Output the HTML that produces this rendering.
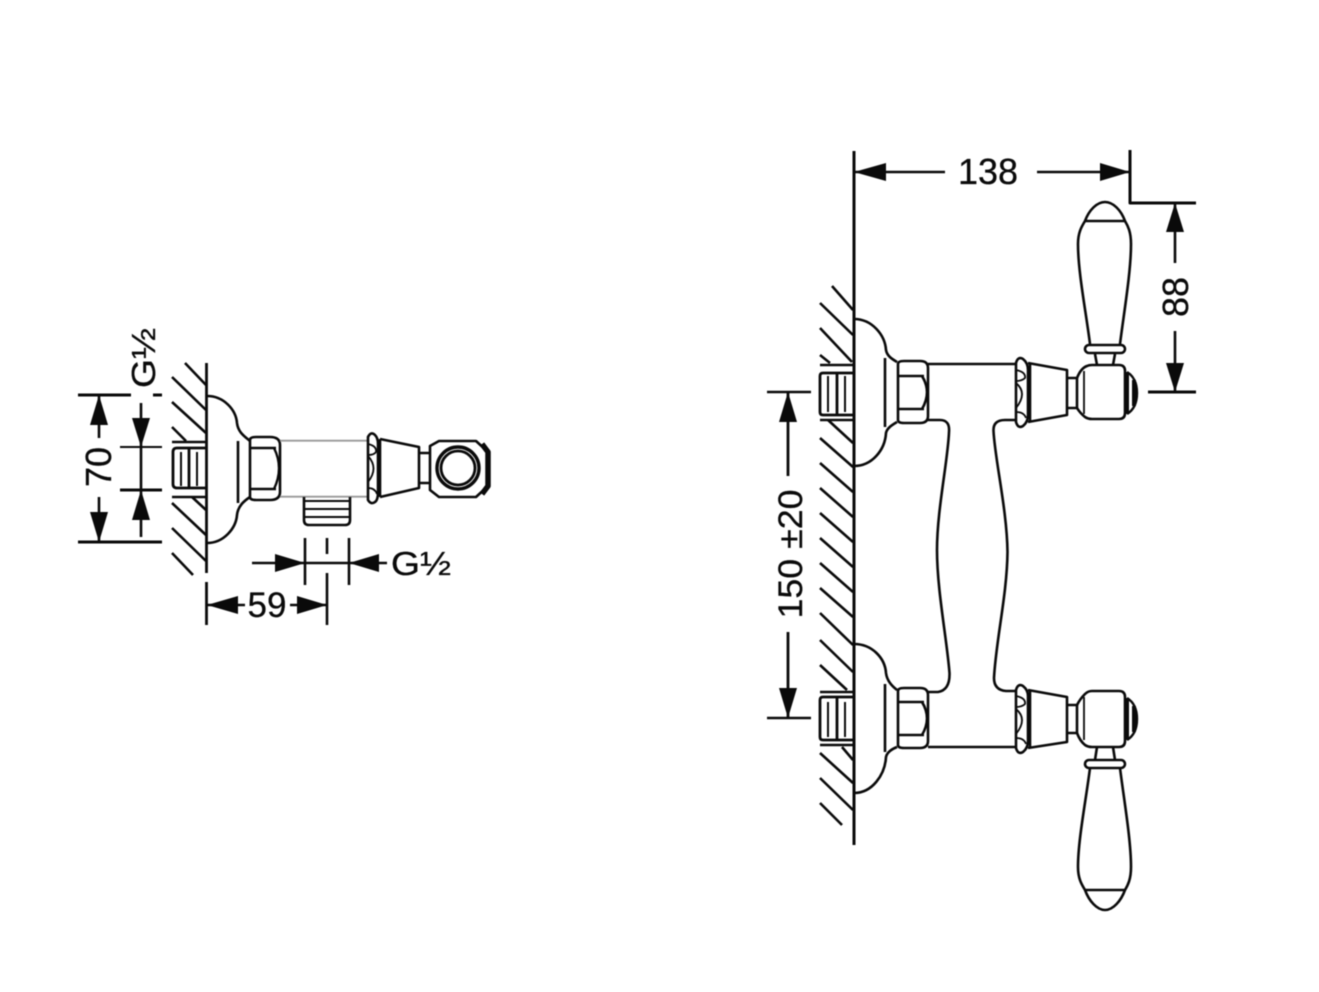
<!DOCTYPE html>
<html><head><meta charset="utf-8"><style>
html,body{margin:0;padding:0;background:#fff}
svg{display:block;filter:blur(0.45px)}
text{font-family:"Liberation Sans",sans-serif;fill:#0a0a0a}
</style></head><body>
<svg width="1319" height="992" viewBox="0 0 1319 992" xmlns="http://www.w3.org/2000/svg">
<rect width="1319" height="992" fill="#fff"/>
<g fill="none" stroke="#0a0a0a" stroke-width="2.6" stroke-linejoin="round" stroke-linecap="butt">
<!-- LEFT FIGURE -->
<path d="M206.5 363V573M206.5 582V625" stroke-width="2.8"/>
<path d="M185 363L206 385M172 377L206 410M172 402L206 433M172 427L186 441M192 497L206 510M172 503L206 535M172 528L206 561M172 553L193 575"/>
<path d="M172 442H206M172 497H206"/>
<path d="M206 448H177Q173 448 173 452V484Q173 488 177 488H206M189 448V488" stroke-width="2.8"/>
<path d="M181 452V486M197 452V486" stroke-width="2"/>
<path d="M207 396C224 396 236 410 237 423C238 432 244 436 250 441M207 543C224 543 236 528 237 515C238 506 244 501 250 497"/>
<path d="M238 441V503"/>
<path d="M250 440Q250 437 256 437H270Q280 437 280 445V492Q280 500 270 500H256Q250 500 250 497Z"/>
<path d="M250 448H276M250 489H276M274 448Q284 468 274 489" stroke-width="2.4"/>
<path d="M280 440.7H367M280 496.7H367" stroke="#999" stroke-width="1.8"/>
<path d="M368 437Q371 431 375 435Q378 438 378 444V492Q378 500 375 502Q371 505 368 500Z"/>
<path d="M368 444Q377 446 376 452Q374 455 368 455M368 456Q379 468 368 482M368 488Q375 488 377 494" stroke-width="1.8"/>
<path d="M380 439V497M380 439L419 447V488L380 497"/>
<path d="M419 453H430M419 483H430"/>
<path d="M430 446L439 441H476L488 452V486L476 497H439L430 490Z"/>
<circle cx="458" cy="468" r="21" stroke-width="3.4"/>
<circle cx="458" cy="468" r="17" stroke-width="2.8"/>
<path d="M482 444L488 452V486L482 494" stroke-width="5.5"/>
<path d="M304 497V520Q304 525 309 525H345Q350 525 350 520V497"/>
<path d="M305 501H349M305 509H349M305 517H349" stroke-width="2"/>
<path d="M305 538V585M349 538V585M327 538V554M327 573V625"/>
<path d="M252 563H387"/>
<path d="M207 605H245M290 605H327"/>
<path d="M78 395H131M153 395H162M78 542H162" stroke-width="3"/>
<path d="M99 395V438M99 497V542"/>
<path d="M141 403V537"/>
<path d="M120 447H162" stroke-width="2"/><path d="M120 490H162" stroke-width="3"/>
<!-- RIGHT FIGURE -->
<path d="M854 151V845" stroke-width="3"/>
<path d="M832 286L853 310M820 303L853 335M820 328L852 362M820 355L830 363M828 420L853 443M820 438L853 467M820 463L853 492M820 488L853 517M820 513L853 542M820 538L853 567M820 563L853 592M820 588L853 617M820 613L853 645M820 640L853 672M820 665L847 690M842 747L853 760M820 753L853 783M820 778L853 810M820 803L842 825"/>
<path d="M820 365H854M820 420H854M820 692H854M820 745H854"/>
<path d="M854 373H823Q820 373 820 376V412Q820 415 823 415H854M837 373V415M854 697H823Q820 697 820 700V737Q820 740 823 740H854M837 697V740" stroke-width="2.8"/>
<path d="M828 376V412M845 376V412M828 702V737M845 702V737" stroke-width="2"/>
<!-- top escutcheon -->
<path d="M854 319C872 319 885 335 886 350C887 356 892 359 897 362M854 466C872 466 885 450 886 433C887 428 892 425 897 422"/>
<path d="M885 358V427"/>
<path d="M898 364Q898 361 904 361H920Q928 361 928 368V416Q928 423 920 423H904Q898 423 898 420Z"/>
<path d="M898 376H924M898 409H924M922 376Q932 392 922 409" stroke-width="2.6"/>
<path d="M928 364H1015"/>
<path d="M1016 363Q1018 356 1023 359Q1028 363 1028 370V415Q1028 422 1023 426Q1018 429 1016 422Z"/>
<path d="M1016 370Q1026 372 1025 378Q1022 381 1016 381M1016 383Q1028 393 1016 408M1016 412Q1024 412 1026 418" stroke-width="1.8"/>
<path d="M1028 363L1067 370V415L1028 422"/>
<path d="M1030 363V421"/>
<path d="M1067 378H1077M1067 408H1077M1077 378V408"/>
<path d="M1077 378Q1081 368 1087 366Q1089 365 1092 365H1119Q1125 365 1125 371V413Q1125 419 1119 419H1092Q1088 419 1085 417Q1080 413 1077 408"/>
<path d="M1084 371V414" stroke-width="1.8"/>
<path d="M1127 372Q1137 378 1137 393Q1137 408 1127 414" stroke-width="2.4"/>
<path d="M1127 372V414" stroke-width="4"/>
<path d="M1134 380V406" stroke-width="4"/>
<!-- top handle -->
<path d="M1097 365L1095 354M1113 365L1115 354"/>
<rect x="1085" y="345" width="40" height="8" rx="4"/>
<path d="M1090 344C1086 312 1078 272 1078 244C1078 232 1082 226 1085 221C1089 210 1097 202 1105 202C1113 202 1121 210 1125 221C1128 226 1131 232 1131 244C1131 272 1124 312 1120 344"/>
<path d="M1085 221H1125"/>
<!-- body -->
<path d="M928 420H940Q950 420 949 432C948 460 937 510 937 550C937 590 947 640 949.5 673Q950 690 938 692H928"/>
<path d="M1015 420H1005Q993 420 993.5 431C995 460 1007 510 1007.5 552C1007 595 996 640 994 678Q994 690 1006 691H1015"/>
<!-- bottom escutcheon -->
<path d="M854 644C872 644 885 658 886 673C887 681 892 686 897 690M854 793C872 793 885 775 886 757C887 752 892 749 897 747"/>
<path d="M885 684V752"/>
<path d="M898 691Q898 688 904 688H920Q928 688 928 695V741Q928 748 920 748H904Q898 748 898 745Z"/>
<path d="M898 702H924M898 735H924M922 702Q932 718 922 735" stroke-width="2.6"/>
<path d="M928 747H1015"/>
<path d="M1016 690Q1018 683 1023 686Q1028 690 1028 696V741Q1028 748 1023 752Q1018 755 1016 748Z"/>
<path d="M1016 696Q1026 698 1025 704Q1022 707 1016 707M1016 709Q1028 719 1016 734M1016 738Q1024 738 1026 744" stroke-width="1.8"/>
<path d="M1028 690L1067 697V742L1028 748"/>
<path d="M1030 690V748"/>
<path d="M1067 705H1077M1067 733H1077M1077 705V733"/>
<path d="M1077 705Q1080 699 1085 694Q1088 691 1092 691H1119Q1125 691 1125 697V741Q1125 747 1119 747H1092Q1088 747 1085 745Q1080 741 1077 733"/>
<path d="M1084 697V740" stroke-width="1.8"/>
<path d="M1127 698Q1137 704 1137 719Q1137 734 1127 740" stroke-width="2.4"/>
<path d="M1127 698V740" stroke-width="4"/>
<path d="M1134 706V732" stroke-width="4"/>
<!-- bottom handle -->
<path d="M1097 747L1095 760M1113 747L1115 760"/>
<rect x="1085" y="760" width="40" height="8" rx="4"/>
<path d="M1090 768C1086 800 1078 840 1078 867C1078 879 1082 885 1085 890C1089 901 1097 910 1105 910C1113 910 1121 901 1125 890C1128 885 1131 879 1131 867C1131 840 1124 800 1120 768"/>
<path d="M1085 890H1125"/>
<!-- right dims -->
<path d="M854 172H945M1037 172H1130"/>
<path d="M1130 150V203H1196M1148 392H1196" stroke-width="3"/>
<path d="M1175 203V263M1175 331V392"/>
<path d="M767 392H811M767 718H811"/>
<path d="M788 392V476M788 632V718" stroke-width="2.8"/>
</g>
<g fill="#0a0a0a" stroke="none">
<path d="M207 605L238 596V614Z"/><path d="M327 605L297 596V614Z"/>
<path d="M305 563L275 554V572Z"/><path d="M349 563L379 554V572Z"/>
<path d="M99 395L90 425H108Z"/><path d="M99 542L90 512H108Z"/>
<path d="M141 447L132 418H150Z"/><path d="M141 490L132 520H150Z"/>
<path d="M854 172L886 163V181Z"/><path d="M1130 172L1100 163V181Z"/>
<path d="M1175 203L1166 232H1184Z"/><path d="M1175 392L1166 363H1184Z"/>
<path d="M788 392L779 422H797Z"/><path d="M788 718L779 688H797Z"/>
</g>
<g stroke="#0a0a0a" stroke-width="0.3">
<text x="267" y="617" font-size="35" text-anchor="middle">59</text>
<text x="391" y="575" font-size="33" textLength="60" lengthAdjust="spacingAndGlyphs">G½</text>
<text transform="translate(111,467) rotate(-90)" font-size="36" text-anchor="middle">70</text>
<text transform="translate(155,358) rotate(-90)" font-size="33" text-anchor="middle" textLength="60" lengthAdjust="spacingAndGlyphs">G½</text>
<text x="988" y="184" font-size="36" text-anchor="middle">138</text>
<text transform="translate(1188,297) rotate(-90)" font-size="36" text-anchor="middle">88</text>
<text transform="translate(802,554) rotate(-90)" font-size="34" text-anchor="middle" textLength="129" lengthAdjust="spacingAndGlyphs">150 ±20</text>
</g>
</svg>
</body></html>
